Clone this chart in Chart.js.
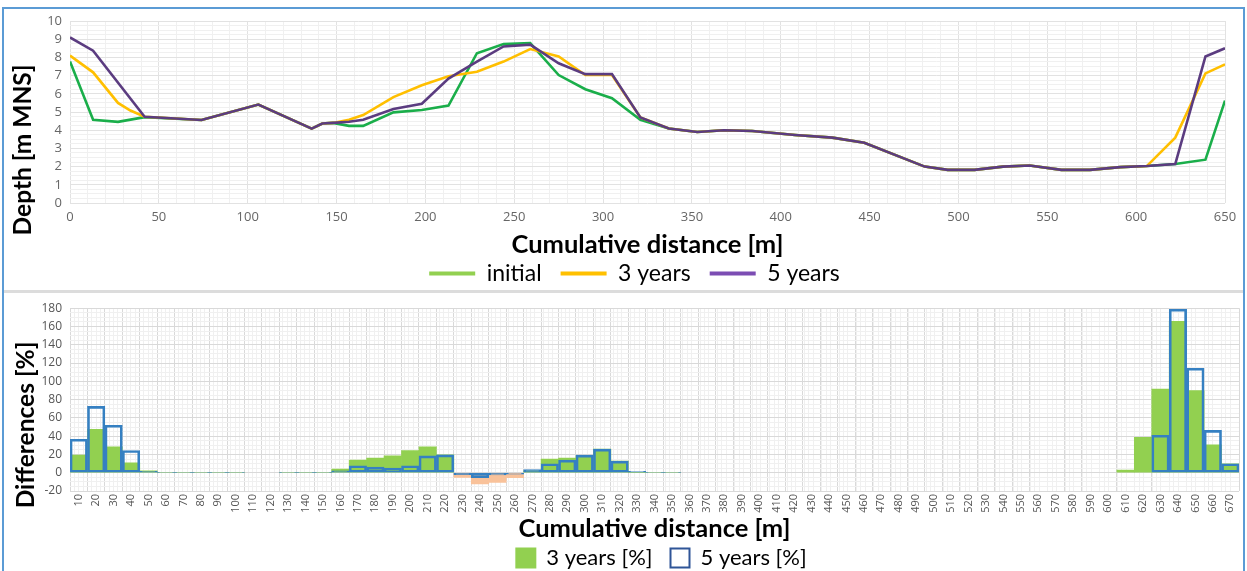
<!DOCTYPE html>
<html>
<head>
<meta charset="utf-8">
<script src="https://cdn.jsdelivr.net/npm/chart.js@4.4.1/dist/chart.umd.min.js"></script>
<style>
  body { margin: 0; background: #fff; width: 1247px; height: 571px; overflow: hidden; position: relative; }
  #frame { position: absolute; left: 2px; top: 7px; width: 1243px; height: 620px; border: 2px solid #5b9bd5; box-sizing: border-box; }
  #sep { position: absolute; left: 4px; top: 290px; width: 1239px; height: 3px; background: #dcdcdc; }
  #c1 { position: absolute; left: 0; top: 0; }
  #c2 { position: absolute; left: 0; top: 293px; }
</style>
</head>
<body>
<div id="frame"></div>
<div id="sep"></div>
<canvas id="c1" width="1247" height="295"></canvas>
<canvas id="c2" width="1247" height="286"></canvas>
<script>
// profile: cumulative distance [m] and depth [m MNS]
const distance = [0, 13, 27, 34, 42, 74, 106, 136, 142, 148, 157, 165, 182, 198, 213, 229, 244, 259, 275, 290,
  305, 321, 337, 353, 368, 384, 408, 429, 447, 481, 494, 509, 525, 540, 558, 574, 591, 606, 622, 639, 650];
const depthInitial = [7.77, 4.57, 4.46, null, 4.72, 4.56, 5.41, 4.09, 4.37, 4.4, 4.24, 4.24, 4.98, 5.11, 5.35, 8.23, 8.73, 8.79, 7.03, 6.25,
  5.76, 4.57, 4.09, 3.9, 4.0, 3.96, 3.74, 3.59, 3.31, 2.0, 1.82, 1.82, 2.0, 2.06, 1.82, 1.82, 1.97, 2.03, 2.14, 2.38, 5.63];
const depth3y = [8.1, 7.18, 5.5, 5.08, 4.74, 4.56, 5.41, 4.09, 4.37, 4.4, 4.57, 4.83, 5.82, 6.47, 6.97, 7.21, 7.77, 8.46, 8.05, 7.03,
  7.03, 4.7, 4.09, 3.9, 4.0, 3.96, 3.74, 3.59, 3.31, 2.0, 1.82, 1.82, 2.0, 2.06, 1.82, 1.82, 1.97, 2.03, 3.59, 7.12, 7.62];
const depth5y = [9.1, 8.37, null, null, 4.74, 4.56, 5.41, 4.09, 4.37, 4.4, 4.46, 4.57, 5.17, 5.45, 6.84, 7.77, 8.6, 8.7, 7.68, 7.08,
  7.08, 4.7, 4.09, 3.9, 4.0, 3.96, 3.74, 3.59, 3.31, 2.0, 1.82, 1.82, 2.0, 2.06, 1.82, 1.82, 1.97, 2.03, 2.14, 8.05, 8.5];

// differences [%] per 10 m bin
const bins = ['10','20','30','40','50','60','70','80','90','100','110','120','130','140','150','160','170','180','190','200',
  '210','220','230','240','250','260','270','280','290','300','310','320','330','340','350','360','370','380','390','400',
  '410','420','430','440','450','460','470','480','490','500','510','520','530','540','550','560','570','580','590','600',
  '610','620','630','640','650','660','670'];
const diff3y = [19.2, 47.5, 28.3, 10.9, 2.2, 0, 0, 0, 0, 0, null, null, 0, 0, 0, 4, 13.8, 16, 18.5, 24.3,
  28.3, 19.6, -5.1, -12.3, -10.5, -5.4, 2.2, 14.9, 16, 18.5, 25.8, 12.7, 0.4, 0, 0, null, null, null, null, null,
  null, null, null, null, null, null, null, null, null, null, null, null, null, null, null, null, null, null, null, null,
  2.9, 38.8, 91.4, 165.5, 90, 30.5, 9.8];
const diff5y = [36.6, 72.6, 51.9, 24.3, 1.5, 0.4, 0.4, 0.4, 0.4, 0.4, null, null, 0.4, 0.4, 0.4, 2.2, 7.6, 6.2, 5.1, 7.6,
  18.5, 19.6, -2.2, -5.4, -2.5, -1.5, 3.3, 9.8, 13.8, 19.2, 25.8, 12.7, 1.5, 0.4, 0.4, null, null, null, null, null,
  null, null, null, null, null, null, null, null, null, null, null, null, null, null, null, null, null, null, null, null,
  null, null, 41, 178.9, 114.3, 46.3, 9.8];

const pts = vals => distance.map((d, i) => ({ x: d, y: vals[i] }));
const titleFont = { family: 'Lato', size: 25.5, weight: 'bold' };
const tickFont = { family: 'Open Sans', size: 13 };
const hidden = 'rgba(0,0,0,0)';
// minor grid colour: hide where a major line already sits
const minor = (step, base) => c => (!c.tick || Math.abs(((c.tick.value - base) % step + step) % step) < 1e-6 ? hidden : '#f0f0f0');

// rotated y title, centred on the whole panel rather than the plot
const sideTitle = {
  id: 'sideTitle',
  afterDraw(chart, args, o) {
    const ctx = chart.ctx;
    ctx.save();
    ctx.translate(o.x, o.y);
    ctx.rotate(-Math.PI / 2);
    ctx.font = 'bold 24.5px Lato';
    ctx.fillStyle = '#000';
    ctx.textAlign = 'center';
    ctx.textBaseline = 'middle';
    ctx.fillText(o.text, 0, 0);
    ctx.restore();
  }
};
// move the legend sideways
const legendShift = {
  id: 'legendShift',
  afterLayout(chart, args, o) {
    chart.legend.left += o.dx;
    chart.legend.right += o.dx;
  }
};

new Chart(document.getElementById('c1'), {
  type: 'line',
  data: {
    datasets: [
      { label: 'initial', data: pts(depthInitial), borderColor: '#1aae4a', legendColor: '#92d050', order: 3 },
      { label: '3 years', data: pts(depth3y), borderColor: '#ffbf00', legendColor: '#ffc000', order: 2 },
      { label: '5 years', data: pts(depth5y), borderColor: '#5b3c80', legendColor: '#7c4db3', order: 1 }
    ]
  },
  plugins: [sideTitle, legendShift],
  options: {
    responsive: false,
    animation: false,
    spanGaps: true,
    elements: { point: { radius: 0 }, line: { borderWidth: 2.6, tension: 0 } },
    layout: { padding: { left: 0, right: 22, top: 21, bottom: 0 } },
    plugins: {
      tooltip: { enabled: false },
      sideTitle: { text: 'Depth [m MNS]', x: 23, y: 150 },
      legendShift: { dx: 22 },
      legend: {
        position: 'bottom',
        labels: {
          font: { family: 'Lato', size: 23 },
          color: '#1a1a1a',
          boxWidth: 46,
          boxHeight: 4,
          padding: 19,
          generateLabels: chart => chart.data.datasets.map((ds, i) => ({
            text: ds.label, fillStyle: ds.legendColor, strokeStyle: ds.legendColor,
            lineWidth: 0, datasetIndex: i, hidden: false
          }))
        }
      }
    },
    scales: {
      x: {
        type: 'linear', min: 0, max: 650,
        ticks: { stepSize: 50, color: '#666', font: tickFont, padding: 6 },
        grid: { color: '#e2e2e2', drawTicks: false },
        border: { display: false },
        title: { display: true, text: 'Cumulative distance [m]', color: '#000', font: titleFont, padding: { top: 0, bottom: -17 } },
        afterFit: s => { s.height = 40; }
      },
      xm: {
        type: 'linear', min: 0, max: 650, position: 'bottom',
        ticks: { display: false, stepSize: 10 },
        grid: { color: minor(50, 0), drawTicks: false },
        border: { display: false },
        afterFit: s => { s.height = 0; }
      },
      y: {
        min: 0, max: 10,
        ticks: { stepSize: 1, autoSkip: false, color: '#666', font: tickFont, padding: 8 },
        grid: { color: '#e2e2e2', drawTicks: false },
        border: { display: false },
        afterFit: s => { s.width = 70; }
      },
      ym: {
        min: 0, max: 10, position: 'left',
        ticks: { display: false, stepSize: 0.25, autoSkip: false },
        grid: { color: minor(1, 0), drawTicks: false },
        border: { display: false },
        afterFit: s => { s.width = 0; }
      }
    }
  }
});

new Chart(document.getElementById('c2'), {
  type: 'bar',
  data: {
    labels: bins,
    datasets: [
      {
        label: '3 years [%]', data: diff3y, order: 2,
        backgroundColor: c => (c.raw < 0 ? '#f9c29a' : '#92d050'),
        borderWidth: 0
      },
      {
        label: '5 years [%]', data: diff5y, order: 1,
        backgroundColor: hidden, borderColor: '#3580c2', borderWidth: 2, borderSkipped: false
      }
    ]
  },
  plugins: [sideTitle, legendShift],
  options: {
    responsive: false,
    animation: false,
    datasets: { bar: { grouped: false, categoryPercentage: 1, barPercentage: 1 } },
    layout: { padding: { left: 0, right: 8, top: 8, bottom: 0 } },
    plugins: {
      tooltip: { enabled: false },
      sideTitle: { text: 'Differences [%]', x: 26, y: 132 },
      legendShift: { dx: 42 },
      legend: {
        position: 'bottom',
        labels: {
          font: { family: 'Lato', size: 22 },
          color: '#1a1a1a',
          boxWidth: 19,
          boxHeight: 19,
          padding: 18,
          generateLabels: chart => chart.data.datasets.map((ds, i) => ({
            text: ds.label,
            fillStyle: i === 0 ? '#92d050' : '#ffffff',
            strokeStyle: i === 0 ? '#92d050' : '#2f5597',
            lineWidth: 2, datasetIndex: i, hidden: false
          }))
        }
      }
    },
    scales: {
      x: {
        ticks: { color: '#555', font: { family: 'Open Sans', size: 11 }, minRotation: 90, maxRotation: 90, autoSkip: false, padding: 3 },
        grid: { color: '#d9d9d9', drawTicks: false },
        border: { display: false },
        title: { display: true, text: 'Cumulative distance [m]', color: '#000', font: titleFont, padding: { top: 0, bottom: -15 } },
        afterFit: s => { s.height = 38; }
      },
      xm: {
        type: 'linear', min: 5, max: 675, position: 'bottom',
        ticks: { display: false, stepSize: 2.5, autoSkip: false },
        grid: { color: minor(10, 5), drawTicks: false },
        border: { display: false },
        afterFit: s => { s.height = 0; }
      },
      y: {
        min: -20, max: 180,
        ticks: { stepSize: 20, autoSkip: false, color: '#555', font: { family: 'Open Sans', size: 12 }, padding: 8 },
        grid: { color: '#d9d9d9', drawTicks: false },
        border: { display: false },
        afterFit: s => { s.width = 70; }
      },
      ym: {
        min: -20, max: 180, position: 'left',
        ticks: { display: false, stepSize: 5, autoSkip: false },
        grid: { color: minor(20, 0), drawTicks: false },
        border: { display: false },
        afterFit: s => { s.width = 0; }
      }
    }
  }
});
</script>
</body>
</html>
